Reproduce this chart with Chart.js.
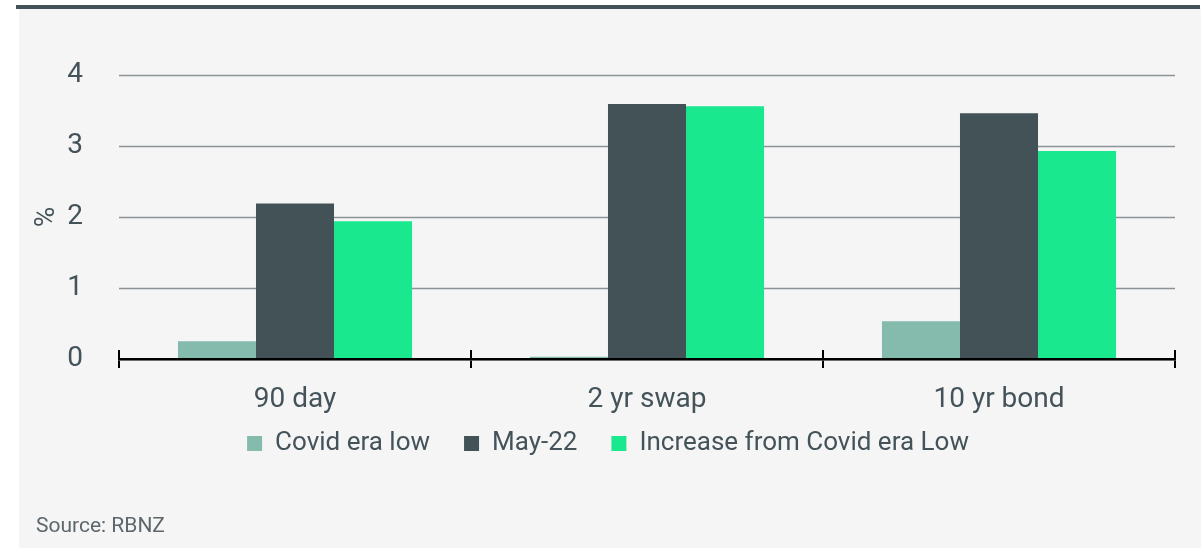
<!DOCTYPE html>
<html>
<head>
<meta charset="utf-8">
<script src="https://cdn.jsdelivr.net/npm/chart.js@4/dist/chart.umd.min.js"></script>
<style>
  html, body { margin: 0; padding: 0; background: #ffffff; }
  #wrap { position: relative; width: 1203px; height: 548px; overflow: hidden; }
  #panel { position: absolute; left: 19px; top: 9px; width: 1182px; height: 539px; background: #f5f5f5; }
  #topbar { position: absolute; left: 16px; top: 5px; width: 1184px; height: 4px; background: #435257; }
  #source { position: absolute; left: 36px; top: 515px; font: 21px/21px Roboto, sans-serif; color: #5d676b; }
  #chart { position: absolute; left: 0; top: 0; }
</style>
</head>
<body>
<div id="wrap">
  <div id="panel"></div>
  <div id="topbar"></div>
  <canvas id="chart" width="1203" height="548"></canvas>
  <div id="source">Source: RBNZ</div>
</div>
<script>
// Wholesale rates, %
const categories = ['90 day', '2 yr swap', '10 yr bond'];
const covidLow = [0.25, 0.03, 0.53];
const may22 = [2.19, 3.59, 3.46];
const increase = [1.94, 3.56, 2.93];
const yTicks = [0, 1, 2, 3, 4];

const textColor = '#44535a';

// horizontal gridlines, kept within the category axis span
const hGrid = {
    id: 'hGrid',
    beforeDatasetsDraw(chart) {
        const x = chart.scales.x;
        const y = chart.scales.y;
        const ctx = chart.ctx;
        ctx.save();
        ctx.strokeStyle = '#8c9397';
        ctx.lineWidth = 1.3;
        yTicks.forEach(v => {
            const py = Math.round(y.getPixelForValue(v)) + 0.5;
            ctx.beginPath();
            ctx.moveTo(x.left, py);
            ctx.lineTo(x.right, py);
            ctx.stroke();
        });
        ctx.restore();
    }
};

// tick marks on the x axis poke above the zero line as well as below
const crossTicks = {
    id: 'crossTicks',
    afterDatasetsDraw(chart) {
        const x = chart.scales.x;
        const ctx = chart.ctx;
        const n = categories.length;
        const y0 = x.top;
        ctx.save();
        ctx.strokeStyle = '#000';
        ctx.lineWidth = 2;
        for (let i = 0; i <= n; i++) {
            const px = Math.round(x.left + i * (x.width / n));
            ctx.beginPath();
            ctx.moveTo(px, y0 - 9);
            ctx.lineTo(px, y0);
            ctx.stroke();
        }
        ctx.restore();
    }
};

new Chart(document.getElementById('chart').getContext('2d'), {
    type: 'bar',
    data: {
        labels: categories,
        datasets: [
            { label: 'Covid era low', data: covidLow, backgroundColor: '#84bbad' },
            { label: 'May-22', data: may22, backgroundColor: '#435257' },
            { label: 'Increase from Covid era Low', data: increase, backgroundColor: '#19e88f' }
        ]
    },
    options: {
        responsive: false,
        animation: false,
        devicePixelRatio: 1,
        categoryPercentage: 0.665,
        barPercentage: 1,
        layout: { padding: { top: 75, left: 41, right: 28, bottom: 81.5 } },
        plugins: {
            tooltip: { enabled: false },
            legend: {
                position: 'bottom',
                // empty title with negative padding pulls the row up,
                // so the wide item spacing doesn't push it down
                title: { display: true, text: '', font: { size: 1 }, padding: { top: -21.7, bottom: 0 } },
                labels: {
                    boxWidth: 15,
                    boxHeight: 15,
                    padding: 34,
                    color: textColor,
                    font: { family: 'Roboto', size: 26 }
                }
            }
        },
        scales: {
            x: {
                afterFit: s => { s.height = 58; },
                border: { display: true, color: '#000', width: 2.5, z: 1 },
                grid: {
                    offset: true,
                    drawOnChartArea: false,
                    drawTicks: true,
                    tickLength: 9,
                    color: '#000',
                    lineWidth: 2
                },
                ticks: {
                    padding: 15,
                    color: textColor,
                    font: { family: 'Roboto', size: 28 }
                }
            },
            y: {
                min: 0,
                max: 4,
                afterFit: s => { s.width = 78; },
                afterBuildTicks: s => { s.ticks = yTicks.map(v => ({ value: v })); },
                border: { display: false },
                grid: { display: false },
                ticks: {
                    padding: 28,
                    color: textColor,
                    font: { family: 'Roboto', size: 28 }
                },
                title: {
                    display: true,
                    text: '%',
                    color: textColor,
                    padding: { top: -11, bottom: 0 },
                    font: { family: 'Roboto', size: 28 }
                }
            }
        }
    },
    plugins: [hGrid, crossTicks]
});
</script>
</body>
</html>
